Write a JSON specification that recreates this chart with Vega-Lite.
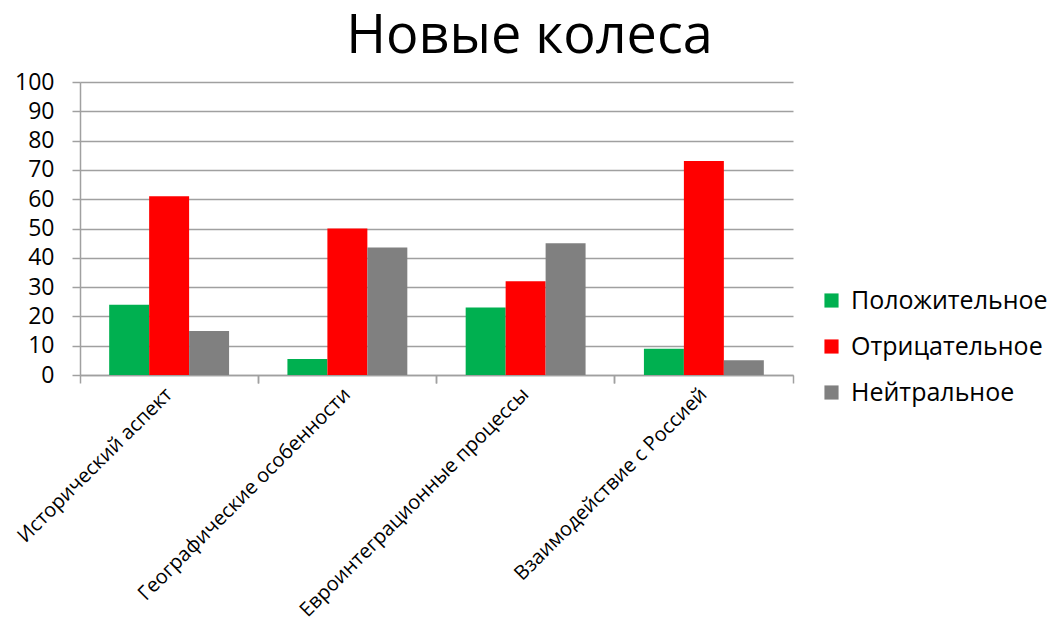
{
  "$schema": "https://vega.github.io/schema/vega-lite/v6.json",
  "width": 713,
  "height": 293,
  "autosize": {"type": "none"},
  "padding": {"left": 80, "top": 82, "right": 265, "bottom": 247},
  "background": "white",
  "title": {
    "text": "Новые колеса",
    "font": "Open Sans",
    "fontSize": 54,
    "fontWeight": "normal",
    "color": "#000000",
    "anchor": "middle",
    "dx": 93,
    "offset": 7
  },
  "data": {
    "values": [
      {"aspect": "Исторический аспект", "type": "Положительное", "value": 24},
      {"aspect": "Исторический аспект", "type": "Отрицательное", "value": 61},
      {"aspect": "Исторический аспект", "type": "Нейтральное", "value": 15},
      {"aspect": "Географические особенности", "type": "Положительное", "value": 5.5},
      {"aspect": "Географические особенности", "type": "Отрицательное", "value": 50},
      {"aspect": "Географические особенности", "type": "Нейтральное", "value": 43.5},
      {"aspect": "Евроинтеграционные  процессы", "type": "Положительное", "value": 23},
      {"aspect": "Евроинтеграционные  процессы", "type": "Отрицательное", "value": 32},
      {"aspect": "Евроинтеграционные  процессы", "type": "Нейтральное", "value": 45},
      {"aspect": "Взаимодействие с Россией", "type": "Положительное", "value": 9},
      {"aspect": "Взаимодействие с Россией", "type": "Отрицательное", "value": 73},
      {"aspect": "Взаимодействие с Россией", "type": "Нейтральное", "value": 5}
    ]
  },
  "encoding": {
    "y": {
      "field": "value",
      "type": "quantitative",
      "scale": {"domain": [0, 100], "nice": false},
      "axis": {
        "title": null,
        "values": [0, 10, 20, 30, 40, 50, 60, 70, 80, 90, 100],
        "labelOverlap": false,
        "labelFont": "Open Sans",
        "labelFontSize": 23,
        "labelColor": "#000000",
        "labelPadding": 18,
        "tickSize": 8,
        "tickColor": "#a0a0a0",
        "tickWidth": 1.5,
        "domainColor": "#a0a0a0",
        "domainWidth": 1.5,
        "grid": true,
        "gridColor": "#a0a0a0",
        "gridWidth": 1.5
      }
    }
  },
  "layer": [
    {
      "mark": {"type": "bar"},
      "encoding": {
        "x": {
          "field": "aspect",
          "type": "nominal",
          "sort": null,
          "scale": {"paddingInner": 0, "paddingOuter": 0},
          "axis": {
            "orient": "bottom",
            "title": null,
            "labelAngle": -45,
            "labelAlign": "right",
            "labelBaseline": "middle",
            "labelFont": "Open Sans",
            "labelFontSize": 20,
            "labelColor": "#000000",
            "labelPadding": 8,
            "labelLimit": 400,
            "bandPosition": 0,
            "ticks": true,
            "tickSize": 8,
            "tickColor": "#a0a0a0",
            "tickWidth": 1.5,
            "domainColor": "#a0a0a0",
            "domainWidth": 1.5,
            "grid": false
          }
        },
        "xOffset": {
          "field": "type",
          "type": "nominal",
          "sort": ["Положительное", "Отрицательное", "Нейтральное"],
          "scale": {"paddingInner": 0, "paddingOuter": 0.73}
        },
        "color": {
          "field": "type",
          "type": "nominal",
          "sort": ["Положительное", "Отрицательное", "Нейтральное"],
          "scale": {
            "domain": ["Положительное", "Отрицательное", "Нейтральное"],
            "range": ["#00b050", "#ff0000", "#808080"]
          },
          "legend": {
            "title": null,
            "orient": "none",
            "legendX": 739,
            "legendY": 206,
            "symbolType": "square",
            "symbolSize": 200,
            "symbolStrokeWidth": 0,
            "labelFont": "Open Sans",
            "labelFontSize": 25,
            "labelColor": "#000000",
            "labelOffset": 7,
            "labelLimit": 300,
            "rowPadding": 20
          }
        }
      }
    },
    {
      "mark": {"type": "bar", "opacity": 0},
      "encoding": {
        "x": {
          "field": "aspect",
          "type": "nominal",
          "sort": null,
          "axis": {
            "orient": "bottom",
            "title": null,
            "labels": false,
            "domain": false,
            "bandPosition": 1,
            "ticks": true,
            "tickSize": 8,
            "tickColor": "#a0a0a0",
            "tickWidth": 1.5,
            "grid": false
          }
        }
      }
    }
  ],
  "resolve": {"axis": {"x": "independent"}},
  "config": {
    "view": {"stroke": null}
  }
}
